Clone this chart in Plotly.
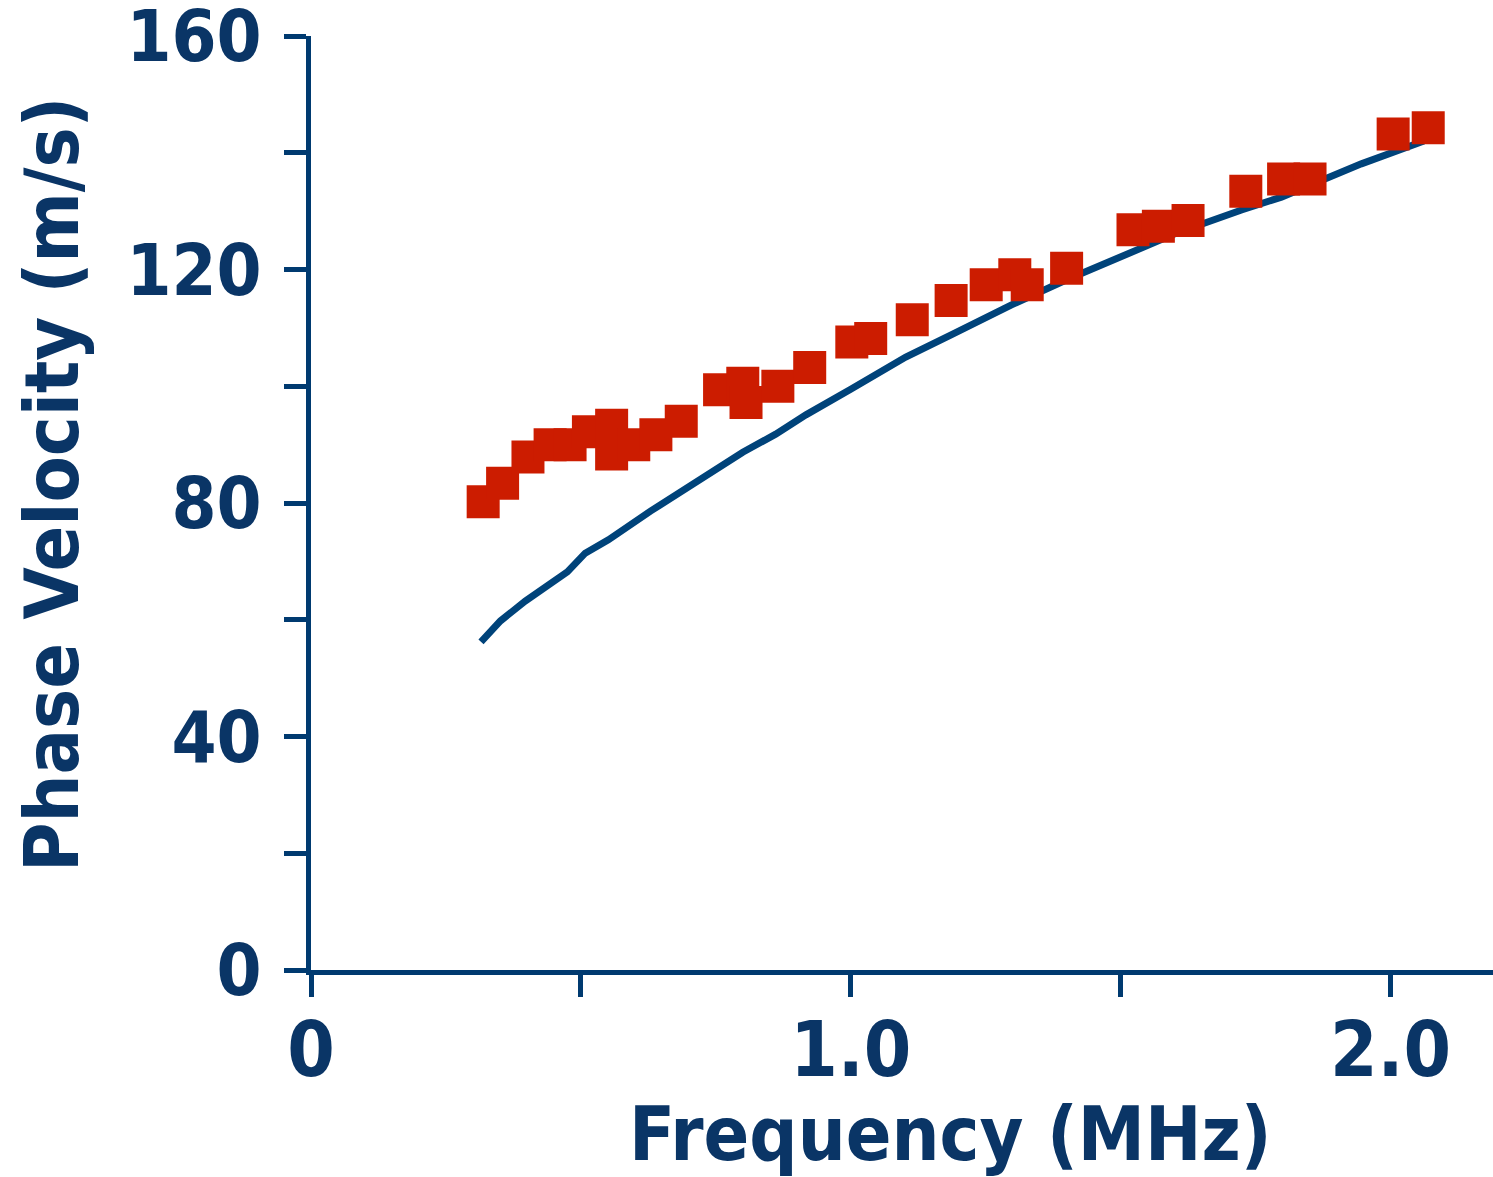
import plotly.graph_objects as go

# Measured data (red squares)
meas_freq = [0.319, 0.355, 0.402, 0.443, 0.480, 0.514, 0.557, 0.557, 0.598, 0.639, 0.686,
             0.757, 0.800, 0.806, 0.865, 0.924, 1.002, 1.037, 1.114, 1.186, 1.251, 1.304,
             1.327, 1.400, 1.523, 1.570, 1.625, 1.732, 1.802, 1.851, 2.005, 2.070]
meas_vel = [80.2, 83.4, 87.9, 90.0, 90.0, 92.2, 93.3, 88.4, 90.0, 91.7, 94.0,
            99.4, 100.5, 97.2, 100.0, 103.2, 107.6, 108.2, 111.4, 114.7, 117.4, 119.1,
            117.4, 120.2, 126.8, 127.4, 128.4, 133.4, 135.5, 135.5, 143.2, 144.3]

# Model curve (blue line)
model_freq = [0.315, 0.351, 0.397, 0.440, 0.475, 0.508, 0.551, 0.629, 0.685, 0.750, 0.800,
              0.861, 0.917, 1.000, 1.102, 1.186, 1.297, 1.399, 1.510, 1.566, 1.608, 1.724,
              1.798, 1.853, 1.946, 2.062]
model_vel = [56.2, 59.8, 63.2, 66.1, 68.2, 71.4, 73.7, 78.6, 82.0, 85.9, 88.7,
             91.8, 95.1, 99.5, 105.0, 108.8, 113.9, 118.2, 122.5, 124.5, 126.4, 130.2,
             132.4, 134.5, 138.1, 142.0]

x_tickvals = [0, 0.5, 1.0, 1.5, 2.0]
x_ticktext = ["0", "", "1.0", "", "2.0"]
y_tickvals = [0, 20, 40, 60, 80, 100, 120, 140, 160]
y_ticktext = ["0", "", "40", "", "80", "", "120", "", "160"]

navy = "#0a3566"
axis_col = "#003a70"
line_col = "#00437a"
red = "#cc1c00"
FONT = "DejaVu Sans Condensed"

fig = go.Figure()
fig.add_trace(go.Scatter(x=model_freq, y=model_vel, mode="lines",
                         line=dict(color=line_col, width=7), showlegend=False))
fig.add_trace(go.Scatter(x=meas_freq, y=meas_vel, mode="markers",
                         marker=dict(symbol="square", size=33, color=red,
                                     line=dict(width=0)),
                         showlegend=False, cliponaxis=False))

fig.update_layout(
    width=1493, height=1177,
    margin=dict(l=311, r=0, t=36, b=207, autoexpand=False),
    plot_bgcolor="white", paper_bgcolor="white",
    font=dict(family=FONT, color=navy),
    xaxis=dict(range=[0, 2.19], tickvals=x_tickvals, ticktext=x_ticktext,
               showgrid=False, zeroline=False, showline=True, linecolor=axis_col,
               linewidth=5, ticks="outside", ticklen=22, tickwidth=5, tickcolor=axis_col,
               ticklabelstandoff=-12, ticklabeloverflow="allow", automargin=False,
               tickfont=dict(family=FONT, size=76, color=navy, weight="bold")),
    yaxis=dict(range=[0, 160], tickvals=y_tickvals, ticktext=y_ticktext,
               showgrid=False, zeroline=False, showline=True, linecolor=axis_col,
               linewidth=5, ticks="outside", ticklen=22, tickwidth=5, tickcolor=axis_col,
               ticklabelstandoff=8, ticklabeloverflow="allow", automargin=False,
               tickfont=dict(family=FONT, size=72, color=navy, weight="bold")),
    annotations=[
        dict(text="Frequency (MHz)", xref="paper", yref="paper",
             x=(950 - 311) / 1182, y=(970 - 1134) / 934, xanchor="center", yanchor="middle",
             showarrow=False, font=dict(family=FONT, size=75, color=navy, weight="bold")),
        dict(text="Phase Velocity (m/s)", xref="paper", yref="paper",
             x=(52 - 311) / 1182, y=(970 - 485) / 934, xanchor="center", yanchor="middle",
             textangle=-90, showarrow=False,
             font=dict(family=FONT, size=75, color=navy, weight="bold")),
    ],
)

fig.write_html("out.html")
